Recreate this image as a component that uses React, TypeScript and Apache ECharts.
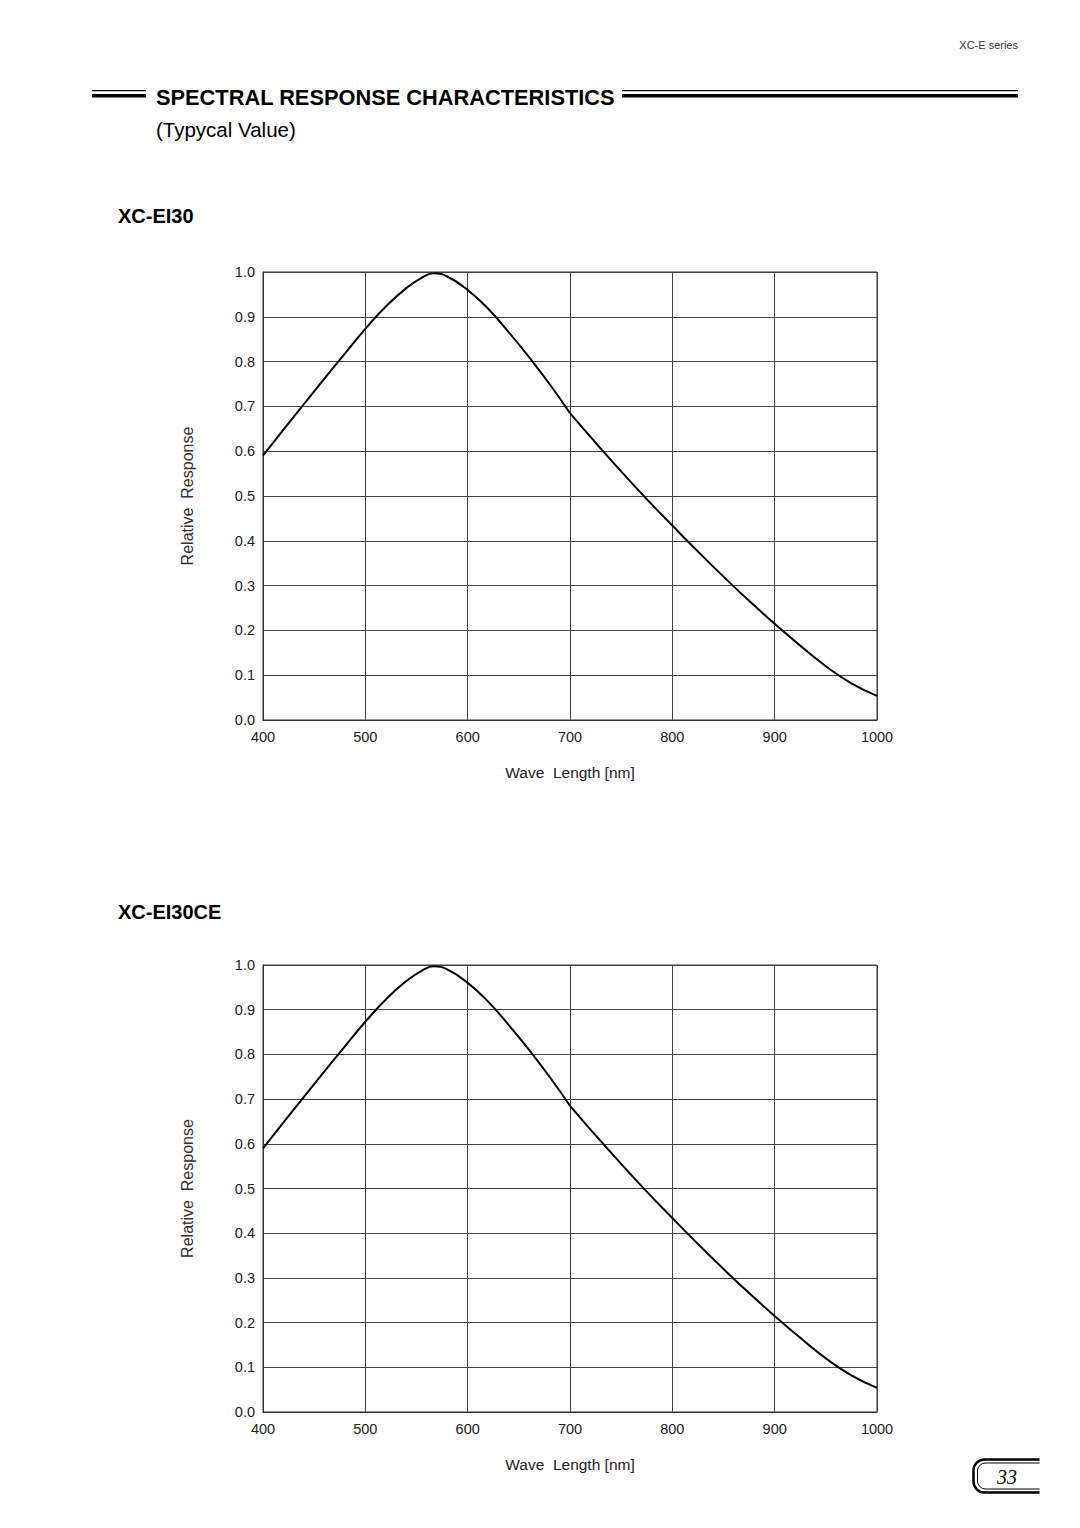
import React, { useEffect, useRef } from "react";
import * as echarts from "echarts";

// Wavelength (nm) and relative response
const wlShort = [400, 420, 440, 460, 480, 500, 520, 540, 555, 567, 580, 600, 620, 640, 660, 680, 700];
const wlLong = [700, 725, 750, 775, 800, 825, 850, 875, 900, 925, 950, 975, 1000];

const ei30Short = [0.59, 0.648, 0.705, 0.762, 0.818, 0.873, 0.923, 0.964, 0.987, 0.997, 0.99, 0.96, 0.918, 0.866, 0.81, 0.75, 0.685];
const ei30Long = [0.685, 0.619, 0.555, 0.493, 0.434, 0.376, 0.32, 0.266, 0.215, 0.166, 0.12, 0.082, 0.054];

const ei30ceShort = [0.59, 0.648, 0.705, 0.762, 0.818, 0.873, 0.923, 0.964, 0.987, 0.997, 0.99, 0.96, 0.918, 0.866, 0.81, 0.75, 0.685];
const ei30ceLong = [0.685, 0.619, 0.555, 0.493, 0.434, 0.376, 0.32, 0.266, 0.215, 0.166, 0.12, 0.082, 0.054];

const xTicks = { min: 400, max: 1000, interval: 100 };
const yTicks = { min: 0, max: 1, interval: 0.1 };

const FONT = "'Liberation Sans', Arial, Helvetica, sans-serif";

function zip(xs: number[], ys: number[]) {
  return xs.map((x, i) => [x, ys[i]]);
}

export default function App() {
  const ref = useRef<HTMLDivElement>(null);

  useEffect(() => {
    if (!ref.current) return;
    const chart = echarts.init(ref.current, null, { renderer: "svg" });

    const makeX = (gridIndex: number) => ({
      type: "value",
      gridIndex,
      min: xTicks.min,
      max: xTicks.max,
      interval: xTicks.interval,
      name: "Wave  Length [nm]",
      nameLocation: "middle",
      nameGap: 44,
      nameTextStyle: { fontFamily: FONT, fontSize: 15.5, color: "#222" },
      axisLine: { show: true, lineStyle: { color: "#333", width: 1 } },
      axisTick: { show: false },
      axisLabel: { fontFamily: FONT, fontSize: 14.5, color: "#222", margin: 9, formatter: (v: number) => String(v) },
      splitLine: { show: true, lineStyle: { color: "#444", width: 1 } },
    });
    const makeY = (gridIndex: number) => ({
      type: "value",
      gridIndex,
      min: yTicks.min,
      max: yTicks.max,
      interval: yTicks.interval,
      name: "Relative  Response",
      nameLocation: "middle",
      nameGap: 68,
      nameRotate: 90,
      nameTextStyle: { fontFamily: FONT, fontSize: 16, color: "#333" },
      axisLine: { show: true, lineStyle: { color: "#333", width: 1 } },
      axisTick: { show: false },
      axisLabel: {
        fontFamily: FONT,
        fontSize: 14.5,
        color: "#222",
        margin: 8,
        formatter: (v: number) => v.toFixed(1),
      },
      splitLine: { show: true, lineStyle: { color: "#444", width: 1 } },
    });

    const lineSeries = (name: string, idx: number, data: number[][]) => ({
      type: "line",
      name,
      xAxisIndex: idx,
      yAxisIndex: idx,
      data,
      smooth: 0.5,
      showSymbol: false,
      symbol: "none",
      lineStyle: { color: "#000", width: 2 },
      z: 5,
    });

    const bar = (x: number, y: number, w: number, h: number) => ({
      type: "rect",
      shape: { x, y, width: w, height: h },
      style: { fill: "#000" },
    });

    chart.setOption({
      animation: false,
      backgroundColor: "#fff",
      grid: [
        { left: 263, top: 272, width: 614, height: 448, show: true, borderColor: "#333", borderWidth: 1, backgroundColor: "transparent" },
        { left: 263, top: 965, width: 614, height: 447, show: true, borderColor: "#333", borderWidth: 1, backgroundColor: "transparent" },
      ],
      xAxis: [makeX(0), makeX(1)],
      yAxis: [makeY(0), makeY(1)],
      series: [
        lineSeries("XC-EI30 (400–700 nm)", 0, zip(wlShort, ei30Short)),
        lineSeries("XC-EI30 (700–1000 nm)", 0, zip(wlLong, ei30Long)),
        lineSeries("XC-EI30CE (400–700 nm)", 1, zip(wlShort, ei30ceShort)),
        lineSeries("XC-EI30CE (700–1000 nm)", 1, zip(wlLong, ei30ceLong)),
      ],
      graphic: [
        {
          type: "text",
          x: 1018,
          y: 45,
          style: { text: "XC-E series", fontFamily: FONT, fontSize: 11, fill: "#333", align: "right", verticalAlign: "middle" },
        },
        bar(92, 90, 54, 1.3),
        bar(92, 94, 54, 3.5),
        bar(622, 90, 396, 1.3),
        bar(622, 94, 396, 3.5),
        {
          type: "text",
          x: 156,
          y: 97,
          style: { text: "SPECTRAL RESPONSE CHARACTERISTICS", fontFamily: FONT, fontSize: 21.8, fontWeight: "bold", fill: "#000", align: "left", verticalAlign: "middle" },
        },
        {
          type: "text",
          x: 156,
          y: 129,
          style: { text: "(Typycal Value)", fontFamily: FONT, fontSize: 20.5, fill: "#000", align: "left", verticalAlign: "middle" },
        },
        {
          type: "text",
          x: 118,
          y: 216,
          style: { text: "XC-EI30", fontFamily: FONT, fontSize: 20, fontWeight: "bold", fill: "#000", align: "left", verticalAlign: "middle" },
        },
        {
          type: "text",
          x: 118,
          y: 912,
          style: { text: "XC-EI30CE", fontFamily: FONT, fontSize: 20, fontWeight: "bold", fill: "#000", align: "left", verticalAlign: "middle" },
        },
        {
          type: "rect",
          shape: { x: 973.5, y: 1459.5, width: 90, height: 33, r: [11, 0, 0, 11] },
          style: { fill: "none", stroke: "#000", lineWidth: 2.5 },
        },
        {
          type: "rect",
          shape: { x: 977.5, y: 1463, width: 85, height: 26, r: [8, 0, 0, 8] },
          style: { fill: "none", stroke: "#000", lineWidth: 1 },
        },
        {
          type: "rect",
          shape: { x: 1039.5, y: 1452, width: 40, height: 48 },
          style: { fill: "#fff" },
        },
        {
          type: "text",
          x: 1007,
          y: 1477,
          style: { text: "33", fontFamily: "'Liberation Serif', 'Times New Roman', serif", fontStyle: "italic", fontSize: 20, fill: "#000", align: "center", verticalAlign: "middle" },
        },
      ],
    });

    return () => chart.dispose();
  }, []);

  return (
    <div
      ref={ref}
      style={{ position: "absolute", left: 0, top: 0, width: 1080, height: 1528, background: "#fff" }}
    />
  );
}
